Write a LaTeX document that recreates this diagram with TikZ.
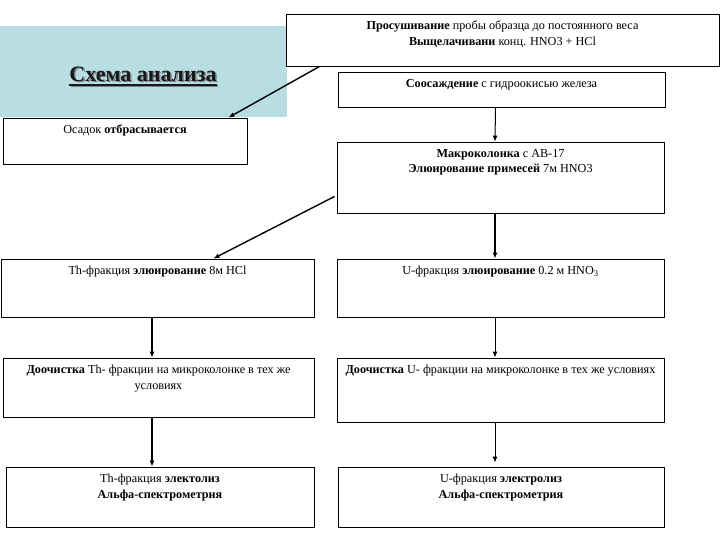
\documentclass[tikz,border=0pt]{standalone}
\usepackage{fontspec}
\setmainfont{Liberation Serif}
\usetikzlibrary{arrows.meta,calc}
\definecolor{panel}{RGB}{184,221,226}
\definecolor{titlecol}{RGB}{25,25,25}
\definecolor{shadowcol}{RGB}{120,130,135}
\begin{document}
\begin{tikzpicture}[x=1pt,y=-1pt,
  box/.style={draw=black, line width=0.9pt, fill=white, inner sep=0pt},
  lbl/.style={anchor=north, align=center, inner sep=0pt, font=\fontsize{12.2}{15.5}\selectfont},
  arr/.style={draw=black, line width=1pt, -{Latex[length=6pt,width=5pt]}},
  heavyarr/.style={arr, line width=1.8pt},
  ttl/.style={font=\fontsize{22}{26}\selectfont\bfseries, inner sep=0pt}]
\useasboundingbox (0,0) rectangle (720,540);
\fill[panel] (0,26) rectangle (287,117);
% title with shadow and underline
\node[ttl, text=shadowcol] (tshadow) at (144.5,75.5) {Схема анализа};
\draw[shadowcol, line width=2pt] ([yshift=-3.5pt]tshadow.base west) -- ([yshift=-3.5pt]tshadow.base east);
\node[ttl, text=titlecol] (title) at (143,74) {Схема анализа};
\draw[titlecol, line width=2pt] ([yshift=-3.5pt]title.base west) -- ([yshift=-3.5pt]title.base east);
% boxes
\node[box, minimum width=433pt, minimum height=52pt] (B1) at (502.5,40) {};
\node[box, minimum width=327pt, minimum height=35pt] (B2) at (501.5,89.5) {};
\node[box, minimum width=244pt, minimum height=46pt] (B3) at (125,141) {};
\node[box, minimum width=327pt, minimum height=71pt] (B4) at (500.5,177.5) {};
\node[box, minimum width=313pt, minimum height=58pt] (B5) at (157.5,288) {};
\node[box, minimum width=327pt, minimum height=58pt] (B6) at (500.5,288) {};
\node[box, minimum width=311pt, minimum height=59pt] (B7) at (158.5,387.5) {};
\node[box, minimum width=327pt, minimum height=64pt] (B8) at (500.5,390) {};
\node[box, minimum width=308pt, minimum height=60pt] (B9) at (160,497) {};
\node[box, minimum width=326pt, minimum height=60pt] (B10) at (501,497) {};
% texts
\node[lbl] (T1) at ([yshift=-7.5pt]B1.north) {\textbf{Просушивание} пробы образца до постоянного веса\\ \textbf{Выщелачивани} конц. HNO3 + HCl};
\node[lbl] (T2) at ([yshift=-7.5pt]B2.north) {\textbf{Соосаждение} с гидроокисью железа};
\node[lbl] (T3) at ([yshift=-7.5pt]B3.north) {Осадок \textbf{отбрасывается}};
\node[lbl] (T4) at ([yshift=-7.5pt]B4.north) {\textbf{Макроколонка} с АВ-17\\ \textbf{Элюирование примесей} 7м HNO3};
\node[lbl] (T5) at ([yshift=-7.5pt]B5.north) {Th-фракция \textbf{элюирование} 8м HCl};
\node[lbl] (T6) at ([yshift=-7.5pt]B6.north) {U-фракция \textbf{элюирование} 0.2 м HNO\textsubscript{3}};
\node[lbl] (T7) at ([yshift=-7.5pt]B7.north) {\textbf{Доочистка} Th- фракции на микроколонке в тех же\\ условиях};
\node[lbl] (T8) at ([yshift=-7.5pt]B8.north) {\textbf{Доочистка} U- фракции на микроколонке в тех же условиях};
\node[lbl] (T9) at ([yshift=-7.5pt]B9.north) {Th-фракция \textbf{электолиз}\\ \textbf{Альфа-спектрометрия}};
\node[lbl] (T10) at ([yshift=-7.5pt]B10.north) {U-фракция \textbf{электролиз}\\ \textbf{Альфа-спектрометрия}};
% connectors
\draw[arr, line width=1.4pt] ([xshift=34pt]B1.south west) -- ([xshift=-19pt]B3.north east);
\draw[arr] ([xshift=-6pt]B2.south) -- ([xshift=-5.5pt]B4.north);
\draw[heavyarr] ([xshift=-5.5pt]B4.south) -- ([xshift=-5.5pt]B6.north);
\draw[arr, line width=1.4pt] ([xshift=-2pt,yshift=17pt]B4.south west) -- ([xshift=-101pt]B5.north east);
\draw[heavyarr] ([xshift=-5.5pt]B5.south) -- ([xshift=-6.5pt]B7.north);
\draw[arr] ([xshift=-5.5pt]B6.south) -- ([xshift=-5.5pt]B8.north);
\draw[heavyarr] ([xshift=-6.5pt]B7.south) -- ([xshift=-8pt]B9.north);
\draw[arr, shorten >=4pt] ([xshift=-5.5pt]B8.south) -- ([xshift=-6pt]B10.north);
\end{tikzpicture}
\end{document}
